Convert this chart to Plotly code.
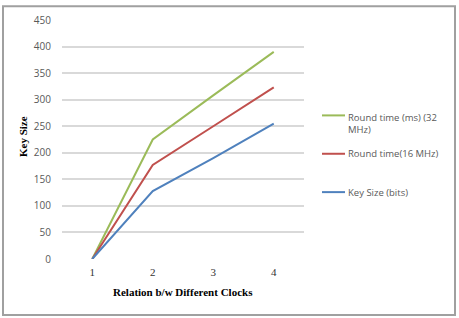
import plotly.graph_objects as go

clocks = [1, 2, 3, 4]
round_32 = [0, 225, 308, 390]
round_16 = [0, 177, 250, 323]
key_bits = [0, 128, 190, 255]
series_names = ["Round time (ms) (32<br>MHz)", "Round time(16 MHz)", "Key Size (bits)"]
series_colors = ["#9bbb59", "#c0504d", "#4f81bd"]
y_ticks = [0, 50, 100, 150, 200, 250, 300, 350, 400, 450]

W, H = 459, 318
L, R, T, B = 62, 304, 16, 259
pw, ph = R - L, B - T

def px(x):
    return (x - L) / pw

def py(y):
    return (B - y) / ph

fig = go.Figure()
for vals, name, col in zip([round_32, round_16, key_bits], series_names, series_colors):
    fig.add_trace(go.Scatter(x=clocks, y=vals, mode="lines", name=name.replace("<br>", " "),
                             line=dict(color=col, width=2), showlegend=False))

shapes = [dict(type="rect", xref="paper", yref="paper", x0=px(3), x1=px(455), y0=py(316), y1=py(2),
               line=dict(color="#a0a0a0", width=2), layer="below")]
annotations = []
legend_y = [121, 152, 191]
line_y = [113, 152, 191]
for name, col, ly, ty in zip(series_names, series_colors, line_y, legend_y):
    shapes.append(dict(type="line", xref="paper", yref="paper", x0=px(322), x1=px(345),
                       y0=py(ly), y1=py(ly), line=dict(color=col, width=2)))
    annotations.append(dict(xref="paper", yref="paper", x=px(346), y=py(ty), xanchor="left",
                            yanchor="middle", showarrow=False, text=name, align="left",
                            font=dict(family="Open Sans", size=9.5, color="#595959")))

annotations.append(dict(xref="paper", yref="paper", x=px(23), y=py(135), showarrow=False,
                        text="<b>Key Size</b>", textangle=-90, xanchor="center", yanchor="middle",
                        font=dict(family="Liberation Serif", size=11, color="#000000")))
annotations.append(dict(xref="paper", yref="paper", x=0.5, y=py(293), showarrow=False,
                        text="<b>Relation b/w Different Clocks</b>", xanchor="center", yanchor="middle",
                        font=dict(family="Liberation Serif", size=11, color="#000000")))

fig.update_layout(
    width=W, height=H,
    margin=dict(l=L, r=W - R, t=T, b=H - B, pad=0),
    paper_bgcolor="white", plot_bgcolor="white",
    shapes=shapes, annotations=annotations,
    xaxis=dict(range=[0.5, 4.5], tickvals=clocks, ticktext=[str(c) for c in clocks],
               showgrid=False, zeroline=False, showline=False,
               ticks="outside", ticklen=3, tickcolor="rgba(0,0,0,0)",
               tickfont=dict(family="Liberation Serif", size=11, color="#333333")),
    yaxis=dict(range=[0, 450], tickvals=y_ticks, showgrid=True, gridcolor="#d9d9d9", gridwidth=1.5,
               zeroline=False, showline=False,
               ticks="outside", ticklen=8, tickcolor="rgba(0,0,0,0)",
               tickfont=dict(family="Open Sans", size=10, color="#595959")),
)
fig.write_html("out.html")
